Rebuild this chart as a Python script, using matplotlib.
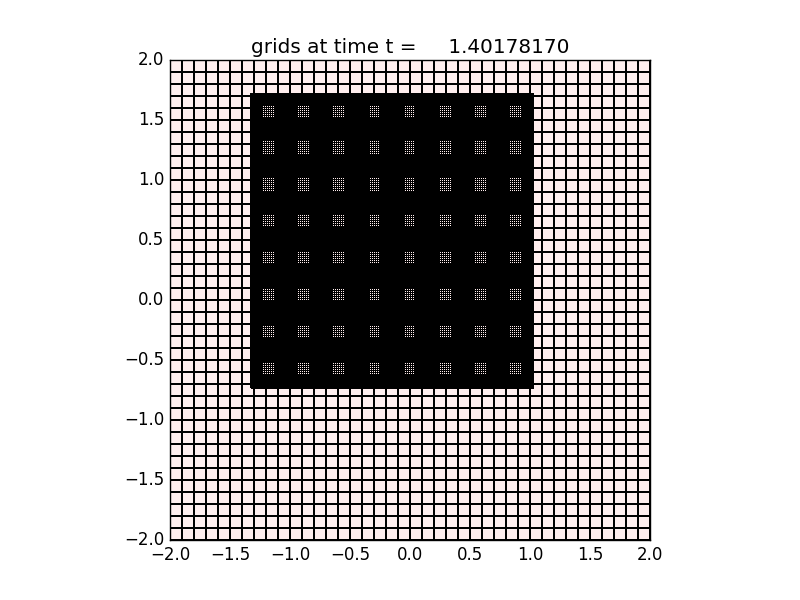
import numpy as np
import matplotlib
matplotlib.use('Agg')
import matplotlib.pyplot as plt

# AMR patches: level, x range, y range, number of cells
patch_level = [1, 2]
patch_x = [(-2.0, 2.0), (-1.325, 1.025)]
patch_y = [(-2.0, 2.0), (-0.733, 1.717)]
patch_cells = [(40, 40), (145, 151)]
patch_color = ['#ffeeee', '#ffeeee']
patch_lw = [1.4, 0.45]

t = 1.40178170

plt.style.use('classic')
fig = plt.figure(figsize=(8, 6), dpi=100, facecolor='white')
ax = fig.add_subplot(111)

for lev, (x0, x1), (y0, y1), (nx, ny), c, lw in zip(patch_level, patch_x, patch_y,
                                                    patch_cells, patch_color, patch_lw):
    xe = np.linspace(x0, x1, nx + 1)
    ye = np.linspace(y0, y1, ny + 1)
    X, Y = np.meshgrid(xe, ye)
    Z = np.zeros((ny, nx))
    # no antialiasing / snapping: the fine grid gives the moire dot patches
    ax.pcolormesh(X, Y, Z, cmap=matplotlib.colors.ListedColormap([c]),
                  edgecolors='k', linewidth=lw, zorder=lev,
                  antialiased=False, snap=False)

ax.set_xlim(-2, 2)
ax.set_ylim(-2, 2)
ax.set_aspect('equal')
ax.set_title('grids at time t = %14.8f' % t)

fig.savefig('out.png', dpi=100, facecolor='white')
